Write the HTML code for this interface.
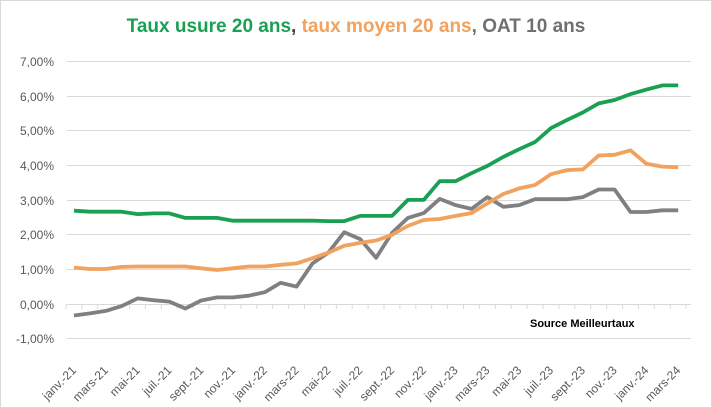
<!DOCTYPE html>
<html><head><meta charset="utf-8"><style>
html,body{margin:0;padding:0;background:#fff}
svg{display:block}
</style></head><body>
<svg width="712" height="408" viewBox="0 0 712 408" xmlns="http://www.w3.org/2000/svg" font-family="Liberation Sans, sans-serif">
<rect x="0.5" y="0.5" width="711" height="407" fill="#fff" stroke="#d9d9d9"/>
<text x="356" y="32" text-anchor="middle" font-size="19" font-weight="bold"><tspan fill="#1aa052">Taux usure 20 ans</tspan><tspan fill="#404040">, </tspan><tspan fill="#f0a25e">taux moyen 20 ans</tspan><tspan fill="#707070">, OAT 10 ans</tspan></text>
<g stroke="#d9d9d9" stroke-width="1">
<line x1="67" x2="691" y1="61.5" y2="61.5"/>
<line x1="67" x2="691" y1="96.5" y2="96.5"/>
<line x1="67" x2="691" y1="130.5" y2="130.5"/>
<line x1="67" x2="691" y1="165.5" y2="165.5"/>
<line x1="67" x2="691" y1="200.5" y2="200.5"/>
<line x1="67" x2="691" y1="234.5" y2="234.5"/>
<line x1="67" x2="691" y1="269.5" y2="269.5"/>
<line x1="67" x2="691" y1="304.5" y2="304.5"/>
<line x1="67" x2="691" y1="338.5" y2="338.5"/>
</g>
<g font-size="12" fill="#595959" text-anchor="end">
<text x="54" y="66">7,00%</text><text x="54" y="101">6,00%</text><text x="54" y="135">5,00%</text>
<text x="54" y="170">4,00%</text><text x="54" y="205">3,00%</text><text x="54" y="239">2,00%</text>
<text x="54" y="274">1,00%</text><text x="54" y="309">0,00%</text><text x="54" y="343">-1,00%</text>
</g>
<g id="ticks" stroke="#d9d9d9"></g>
<g id="xl" font-size="12" fill="#595959"></g>
<polyline id="gr" fill="none" stroke="#808080" stroke-width="3.8" stroke-linejoin="round"/>
<polyline id="or" fill="none" stroke="#f0a25e" stroke-width="3.8" stroke-linejoin="round"/>
<polyline id="gn" fill="none" stroke="#1aa052" stroke-width="3.8" stroke-linejoin="round"/>
<text x="530" y="327" font-size="11" font-weight="bold" fill="#000">Source Meilleurtaux</text>
<script>
var gn=[2.69,2.66,2.66,2.66,2.59,2.61,2.61,2.48,2.48,2.48,2.4,2.4,2.4,2.4,2.4,2.4,2.39,2.39,2.54,2.54,2.54,3.0,3.0,3.54,3.54,3.77,3.98,4.24,4.46,4.67,5.07,5.3,5.52,5.78,5.88,6.05,6.18,6.3,6.3];
var or=[1.05,1.01,1.01,1.07,1.08,1.08,1.08,1.08,1.03,0.98,1.03,1.08,1.08,1.13,1.17,1.32,1.48,1.68,1.76,1.83,1.99,2.25,2.42,2.45,2.54,2.62,2.9,3.17,3.33,3.43,3.74,3.86,3.88,4.28,4.3,4.43,4.04,3.96,3.94];
var gr=[-0.33,-0.27,-0.2,-0.06,0.16,0.11,0.07,-0.13,0.1,0.19,0.19,0.24,0.34,0.61,0.5,1.17,1.48,2.07,1.87,1.33,2.05,2.48,2.62,3.03,2.85,2.74,3.08,2.8,2.85,3.02,3.02,3.02,3.08,3.3,3.3,2.65,2.65,2.7,2.7];
function X(i){return 74+15.9*i}function Y(v){return 304-34.7*v}
function pts(a){return a.map(function(v,i){return X(i).toFixed(1)+","+Y(v).toFixed(1)}).join(" ")}
document.getElementById("gn").setAttribute("points",pts(gn));
document.getElementById("or").setAttribute("points",pts(or));
document.getElementById("gr").setAttribute("points",pts(gr));
var ns="http://www.w3.org/2000/svg";
var lab=["janv.-21","mars-21","mai-21","juil.-21","sept.-21","nov.-21","janv.-22","mars-22","mai-22","juil.-22","sept.-22","nov.-22","janv.-23","mars-23","mai-23","juil.-23","sept.-23","nov.-23","janv.-24","mars-24"];
var t=document.getElementById("ticks");
for(var k=0;k<=39;k++){var l=document.createElementNS(ns,"line");var x=66+15.9*k;l.setAttribute("x1",x);l.setAttribute("x2",x);l.setAttribute("y1",304);l.setAttribute("y2",309);t.appendChild(l);}
var g=document.getElementById("xl");
lab.forEach(function(s,j){var x=X(2*j)+3,y=371;var e=document.createElementNS(ns,"text");e.setAttribute("x",x);e.setAttribute("y",y);e.setAttribute("text-anchor","end");e.setAttribute("transform","rotate(-45 "+x+" "+y+")");e.textContent=s;g.appendChild(e);});
</script>
</svg>
</body></html>
